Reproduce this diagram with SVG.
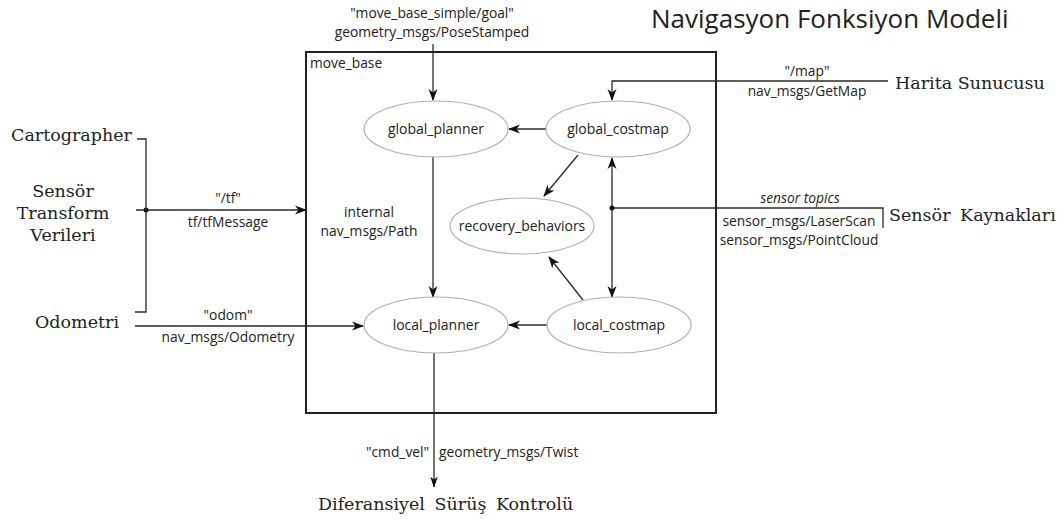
<svg xmlns="http://www.w3.org/2000/svg" width="1064" height="525" viewBox="0 0 1064 525">
  <style>
    .lbl { font-family: "Open Sans", "Liberation Sans", sans-serif; font-size: 13.8px; fill: #222; }
    .ital { font-style: italic; }
    .ext { font-family: "DejaVu Serif", "Liberation Serif", serif; font-size: 17.5px; fill: #222; }
    .wide { word-spacing: 4px; }
    .title { font-family: "Open Sans", "Liberation Sans", sans-serif; font-size: 26px; fill: #222; }
    .node ellipse { fill: #fff; stroke: #b0b0b0; stroke-width: 1.2; }
    .node text { font-family: "Open Sans", "Liberation Sans", sans-serif; font-size: 14px; fill: #222; text-anchor: middle; }
    .wire { fill: none; stroke: #2a2a2a; stroke-width: 1.3; }
    .mid { text-anchor: middle; }
  </style>
  <defs>
    <marker id="arr" markerUnits="userSpaceOnUse" markerWidth="12" markerHeight="10" refX="11" refY="4.5" orient="auto-start-reverse" viewBox="0 0 12 9">
      <path d="M0,0 L12,4.5 L0,9 L3.5,4.5 z" fill="#111"/>
    </marker>
    <marker id="arrBig" markerUnits="userSpaceOnUse" markerWidth="11" markerHeight="16" refX="15" refY="5.5" orient="auto" viewBox="0 0 16 11">
      <path d="M0,0 L16,5.5 L0,11 L4,5.5 z" fill="#111"/>
    </marker>
  </defs>

  <rect width="1064" height="525" fill="#fff"/>

  <text class="title" x="651" y="28">Navigasyon Fonksiyon Modeli</text>

  <!-- move_base container -->
  <g id="move_base">
    <rect x="306" y="52" width="410" height="361" fill="none" stroke="#222" stroke-width="2"/>
    <text class="lbl" x="310" y="68">move_base</text>
  </g>

  <!-- connectors -->
  <g id="connectors">
    <path class="wire" d="M433,44 V100" marker-end="url(#arr)"/>
    <path class="wire" d="M546,129 H509" marker-end="url(#arr)"/>
    <path class="wire" d="M578,155 L544,196" marker-end="url(#arr)"/>
    <path class="wire" d="M583,300 L549,257" marker-end="url(#arr)"/>
    <path class="wire" d="M433,157 V297" marker-end="url(#arr)"/>
    <path class="wire" d="M547,325 H509" marker-end="url(#arr)"/>
    <path class="wire" d="M612,158 V297" marker-start="url(#arr)" marker-end="url(#arr)"/>
    <path class="wire" d="M888,81 H612 V100" marker-end="url(#arr)"/>
    <path class="wire" d="M612,208 H883 V228"/>
    <circle cx="612" cy="208" r="2.5" fill="#111"/>
    <path class="wire" d="M136,210 H306" marker-end="url(#arr)"/>
    <circle cx="146" cy="210" r="2.5" fill="#111"/>
    <path class="wire" d="M137,139 H146 V312 H135"/>
    <path class="wire" d="M135,326 H363" marker-end="url(#arr)"/>
    <path class="wire" d="M434,353 V487" marker-end="url(#arrBig)"/>
  </g>

  <!-- connector labels -->
  <g id="labels">
    <text class="lbl mid" x="432" y="18">"move_base_simple/goal"</text>
    <text class="lbl mid" x="432" y="37">geometry_msgs/PoseStamped</text>
    <text class="lbl mid" x="228" y="203">"/tf"</text>
    <text class="lbl mid" x="228" y="227">tf/tfMessage</text>
    <text class="lbl mid" x="228" y="320">"odom"</text>
    <text class="lbl mid" x="228" y="342">nav_msgs/Odometry</text>
    <text class="lbl mid" x="369" y="217">internal</text>
    <text class="lbl mid" x="369" y="236">nav_msgs/Path</text>
    <text class="lbl mid" x="807" y="76">"/map"</text>
    <text class="lbl mid" x="807" y="96">nav_msgs/GetMap</text>
    <text class="lbl mid ital" x="800" y="203">sensor topics</text>
    <text class="lbl mid" x="799" y="226">sensor_msgs/LaserScan</text>
    <text class="lbl mid" x="799" y="245">sensor_msgs/PointCloud</text>
    <text class="lbl" x="429" y="457" text-anchor="end">"cmd_vel"</text>
    <text class="lbl" x="439" y="457">geometry_msgs/Twist</text>
  </g>

  <!-- nodes inside move_base -->
  <g id="global_planner" class="node">
    <ellipse cx="436" cy="129" rx="72" ry="28"/>
    <text x="436" y="134">global_planner</text>
  </g>
  <g id="global_costmap" class="node">
    <ellipse cx="618" cy="129" rx="72" ry="28"/>
    <text x="618" y="134">global_costmap</text>
  </g>
  <g id="recovery_behaviors" class="node">
    <ellipse cx="522" cy="226" rx="72" ry="28"/>
    <text x="522" y="231">recovery_behaviors</text>
  </g>
  <g id="local_planner" class="node">
    <ellipse cx="436" cy="325" rx="72" ry="28"/>
    <text x="436" y="330">local_planner</text>
  </g>
  <g id="local_costmap" class="node">
    <ellipse cx="619" cy="325" rx="72" ry="28"/>
    <text x="619" y="330">local_costmap</text>
  </g>

  <!-- external sources and sinks -->
  <g id="cartographer"><text class="ext" x="11" y="141">Cartographer</text></g>
  <g id="sensor_transform">
    <text class="ext mid" x="63" y="197">Sensör</text>
    <text class="ext mid" x="63" y="219">Transform</text>
    <text class="ext mid" x="63" y="241">Verileri</text>
  </g>
  <g id="odometri"><text class="ext" x="35" y="328">Odometri</text></g>
  <g id="harita_sunucusu"><text class="ext" x="895" y="89">Harita Sunucusu</text></g>
  <g id="sensor_kaynaklari"><text class="ext wide" x="889" y="221">Sensör Kaynakları</text></g>
  <g id="diferansiyel"><text class="ext wide" x="318" y="510">Diferansiyel Sürüş Kontrolü</text></g>
</svg>
